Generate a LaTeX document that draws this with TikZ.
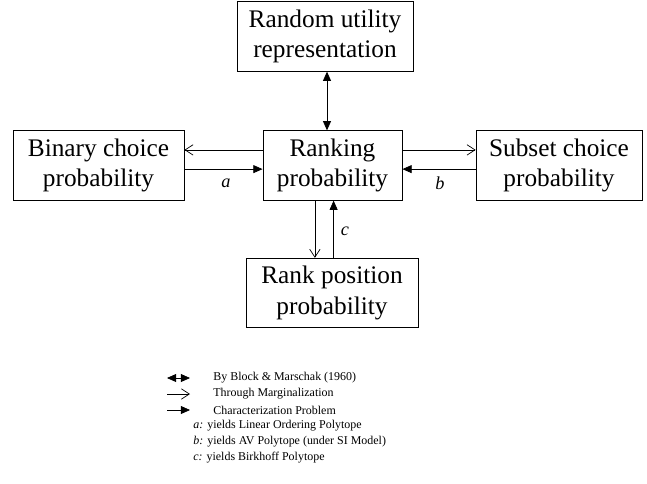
\documentclass[tikz,border=0pt]{standalone}
\usepackage{fontspec}
\setmainfont{Liberation Serif}
\usetikzlibrary{arrows.meta, positioning}

\tikzset{
    box/.style={draw, rectangle, align=center, minimum height=1.74cm, inner sep=0pt,
        font=\fontsize{18}{21.5}\selectfont},
    marg/.style={-{Straight Barb[length=2mm,width=2.6mm]}},
    charac/.style={-{Triangle[length=2.3mm,width=2mm]}},
    bm/.style={{Triangle[length=2.3mm,width=2mm]}-{Triangle[length=2.3mm,width=2mm]}},
    lbl/.style={font=\fontsize{13}{15}\selectfont\itshape},
    leg/.style={anchor=west, inner sep=0pt, font=\fontsize{8.5}{10}\selectfont}
}

\begin{document}
\begin{tikzpicture}[x=0.025cm, y=-0.025cm, line width=0.5pt]
    \useasboundingbox (0,0) rectangle (647,483);

    \node [box, minimum width=4.4cm](r)at(325,36.5){Random utility\\representation};
    \node [box, minimum width=3.48cm](p)at(332.5,165.5){Ranking\\probability};
    \node [box, minimum width=4.28cm](b)at(98.5,165.5){Binary choice\\probability};
    \node [box, minimum width=4.15cm](s)at(559,165.5){Subset choice\\probability};
    \node [box, minimum width=4.3cm](q)at(332,293){Rank position\\probability};

    \node [lbl](la)at(226,183){a};
    \node [lbl](lb)at(440,183){b};
    \node [lbl](lc)at(345,231){c};

    \draw [bm]([xshift=0.05cm]r.south)--([xshift=0.05cm]r.south |- p.north);
    \draw [marg]([yshift=0.39cm]p.west)--([yshift=0.39cm]p.west -| b.east);
    \draw [charac]([yshift=-0.09cm]b.east)--([yshift=-0.09cm]b.east -| p.west);
    \draw [marg]([yshift=0.39cm]p.east)--([yshift=0.39cm]p.east -| s.west);
    \draw [charac]([yshift=-0.09cm]s.west)--([yshift=-0.09cm]s.west -| p.east);
    \draw [marg]([xshift=-0.44cm]p.south)--([xshift=-0.44cm]p.south |- q.north);
    \draw [charac]([xshift=0.04cm]q.north)--([xshift=0.04cm]q.north |- p.south);

    % legend
    \coordinate (k1)at(167,378);
    \coordinate (k2)at(190,378);
    \coordinate (k3)at(167,394);
    \coordinate (k4)at(190,394);
    \coordinate (k5)at(167,410);
    \coordinate (k6)at(190,410);
    \draw [bm](k1)--(k2);
    \draw [marg](k3)--(k4);
    \draw [charac](k5)--(k6);
    \node [leg](t1)at(213,378){By Block \& Marschak (1960)};
    \node [leg](t2)at(213,394){Through Marginalization};
    \node [leg](t3)at(213,410){Characterization Problem};
    \node [leg](t4)at(193,426){\textit{a:} yields Linear Ordering Polytope};
    \node [leg](t5)at(193,442){\textit{b:} yields AV Polytope (under SI Model)};
    \node [leg](t6)at(193,458){\textit{c:} yields Birkhoff Polytope};
\end{tikzpicture}
\end{document}
